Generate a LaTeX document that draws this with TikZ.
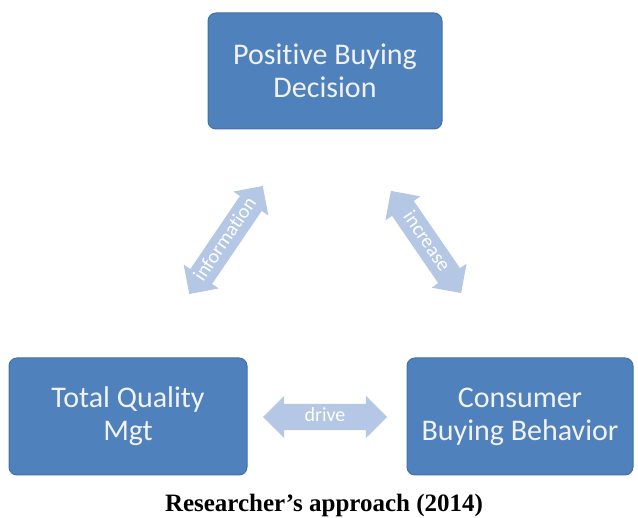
\documentclass[tikz,border=0pt]{standalone}
\usepackage{fontspec}
\setmainfont[RawFeature=-liga]{Carlito}
\newfontfamily\captionfont{Liberation Serif}
\usetikzlibrary{shapes.arrows}

\definecolor{boxblue}{RGB}{79,129,189}
\definecolor{boxedge}{RGB}{66,112,168}
\definecolor{boxtext}{RGB}{242,242,242}
\definecolor{linkblue}{RGB}{180,199,228}

\tikzset{
  stagebox/.style={draw=boxedge, line width=1pt, fill=boxblue,
    rounded corners=8pt, text=boxtext, align=center, inner sep=0pt,
    font=\fontsize{30}{33}\selectfont},
  linkarrow/.style={double arrow, double arrow head extend=8pt,
    fill=linkblue, draw=none, text=white,
    font=\fontsize{20}{22}\selectfont,
    text height=14pt, text depth=4pt, inner xsep=4pt, inner ysep=4pt,
    minimum width=42pt},
}

\begin{document}
\begin{tikzpicture}[x=1pt, y=-1pt]
  \useasboundingbox (0,0) rectangle (638,518);

  % the three stages
  \node[stagebox, minimum width=234pt, minimum height=116pt] (decision) at (325,71)
    {Positive Buying\\Decision};
  \node[stagebox, minimum width=238pt, minimum height=117pt] (tqm) at (128,416.5)
    {Total Quality\\Mgt};
  \node[stagebox, minimum width=226pt, minimum height=117pt] (behavior) at (520,416.5)
    {Consumer\\Buying Behavior};

  % two-way links between the stages
  \node[linkarrow, minimum height=128pt, rotate=55.8] (information) at (226,240)
    {information};
  \node[linkarrow, minimum height=124pt, rotate=-55.5] (increase) at (426,242)
    {increase};
  \node[linkarrow, minimum height=124pt] (drive) at (325,417) {drive};

  % caption
  \node[anchor=base, inner sep=0pt, font=\captionfont\bfseries\fontsize{25}{28}\selectfont]
    (caption) at (324,512) {Researcher’s approach (2014)};
\end{tikzpicture}
\end{document}
